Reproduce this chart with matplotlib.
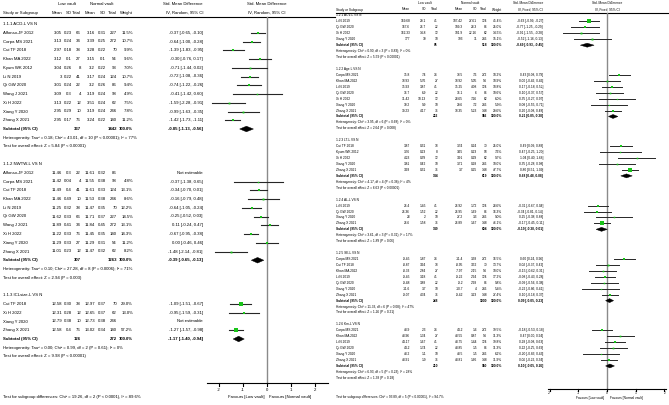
import matplotlib
matplotlib.use('Agg')
import numpy as np
import matplotlib.pyplot as plt
from matplotlib import font_manager
from matplotlib.patches import Polygon

# ---- left panel: 1.1.x (IV, Random) ----
# study, low mean, low sd, low n, normal mean, normal sd, normal n, weight %, smd, lo, hi
acd_rows = [
    ("Alfonso-JF 2012", "3.05", "0.23", "66", "3.16", "0.31", "227", 11.5, -0.37, -0.65, -0.10),
    ("Corpa MS 2021", "3.13", "0.24", "34", "3.39", "0.25", "272", 10.7, -0.64, -1.00, -0.28),
    ("Cui TF 2018", "2.97", "0.18", "38", "3.28", "0.22", "70", 9.9, -1.39, -1.83, -0.95),
    ("Khan MA 2022", "3.12", "0.1", "27", "3.15", "0.1", "54", 9.6, -0.30, -0.76, 0.17),
    ("Kyum WK 2012", "3.04", "0.26", "8", "3.2", "0.22", "93", 7.0, -0.71, -1.44, 0.02),
    ("Li N 2019", "3", "0.22", "41", "3.17", "0.24", "124", 10.7, -0.72, -1.08, -0.36),
    ("Qi GW 2020", "3.01", "0.24", "22", "3.2", "0.26", "86", 9.4, -0.74, -1.22, -0.26),
    ("Wang J 2021", "3.09", "0.3", "4", "3.19", "0.24", "98", 4.9, -0.41, -1.42, 0.60),
    ("Xi H 2022", "3.13", "0.22", "12", "3.51", "0.24", "62", 7.5, -1.59, -2.28, -0.91),
    ("Xiang Y 2020", "2.95", "0.29", "10", "3.19", "0.24", "246", 7.8, -0.99, -1.63, -0.35),
    ("Zhang X 2021", "2.95", "0.17", "76", "3.24", "0.22", "140", 11.2, -1.42, -1.73, -1.11),
]
acd_total = ("337", "1442", -0.85, -1.13, -0.56)
acd_het = "Heterogeneity: Tau² = 0.18; Chi² = 43.01, df = 10 (P < 0.00001); I² = 77%"
acd_z = "Test for overall effect: Z = 5.84 (P < 0.00001)"

nwtw_rows = [
    ("Alfonso-JF 2012", "11.46", "0.3", "22", "11.61", "0.32", "86", None, None, None, None),
    ("Corpa MS 2021", "11.42", "0.04", "4", "11.55", "0.38", "98", 4.8, -0.37, -1.38, 0.65),
    ("Cui TF 2018", "11.49", "0.4", "41", "11.61", "0.33", "124", 13.1, -0.34, -0.70, 0.01),
    ("Khan MA 2022", "11.46", "0.49", "10", "11.53", "0.38", "246", 8.6, -0.16, -0.79, 0.48),
    ("Li N 2019", "11.25", "0.32", "38", "11.47", "0.35", "70", 12.2, -0.64, -1.05, -0.24),
    ("Qi GW 2020", "11.62", "0.33", "66", "11.71", "0.37", "227", 14.5, -0.25, -0.52, 0.03),
    ("Wang J 2021", "11.89", "0.41", "34", "11.84", "0.45", "272", 13.1, 0.11, -0.24, 0.47),
    ("Xi H 2022", "11.22", "0.33", "76", "11.45", "0.35", "140", 14.3, -0.67, -0.95, -0.38),
    ("Xiang Y 2020", "11.29", "0.33", "27", "11.29", "0.31", "54", 11.2, 0.00, -0.46, 0.46),
    ("Zhang X 2021", "11.01", "0.23", "12", "11.47", "0.32", "62", 8.2, -1.48, -2.14, -0.81),
]
nwtw_total = ("307", "1263", -0.39, -0.65, -0.13)
nwtw_het = "Heterogeneity: Tau² = 0.10; Chi² = 27.28, df = 8 (P = 0.0006); I² = 71%"
nwtw_z = "Test for overall effect: Z = 2.94 (P = 0.003)"

icl_rows = [
    ("Cui TF 2018", "12.58", "0.30", "38", "12.97", "0.37", "70", 29.0, -1.09, -1.51, -0.67),
    ("Xi H 2022", "12.31", "0.28", "12", "12.65", "0.37", "62", 13.0, -0.95, -1.59, -0.31),
    ("Xiang Y 2020", "12.79", "0.38", "10", "12.73", "0.38", "246", None, None, None, None),
    ("Zhang X 2021", "12.58", "0.4", "76", "13.02", "0.34", "140", 57.2, -1.27, -1.57, -0.98),
]
icl_total = ("126", "272", -1.17, -1.40, -0.94)
icl_het = "Heterogeneity: Tau² = 0.00; Chi² = 0.99, df = 2 (P = 0.61); I² = 0%"
icl_z = "Test for overall effect: Z = 9.98 (P < 0.00001)"

left_diff = "Test for subgroup differences: Chi² = 19.26, df = 2 (P < 0.0001), I² = 89.6%"

# ---- right panel: 1.2.x (IV, Fixed) ----
acv_rows = [
    ("Li N 2019", "169.68", "29.1", "41", "187.42", "27.61", "124", 45.4, -0.63, -0.99, -0.27),
    ("Qi GW 2020", "167.6", "26.7", "22", "189.3", "28.3", "86", 25.0, -0.77, -1.25, -0.29),
    ("Xi H 2022", "162.33", "14.8", "12", "181.9", "22.16", "62", 14.5, -0.91, -1.55, -0.28),
    ("Xiang Y 2020", "177", "30", "10", "193", "31", "246", 15.1, -0.52, -1.16, 0.13),
]
acv_total = ("85", "518", -0.69, -0.93, -0.45)
acv_het = "Heterogeneity: Chi² = 0.90, df = 3 (P = 0.83); I² = 0%"
acv_z = "Test for overall effect: Z = 5.59 (P < 0.00001)"

age_rows = [
    ("Corpa MS 2021", "35.8", "7.4", "34", "33.5", "7.6", "272", 18.2, 0.43, 0.08, 0.79),
    ("Khan MA 2022", "38.93", "5.76", "27", "38.92", "5.05", "54", 10.9, 0.00, -0.46, 0.46),
    ("Li N 2019", "35.93", "3.87", "41", "35.25", "4.08", "124", 18.8, 0.17, -0.18, 0.52),
    ("Qi GW 2020", "36.7", "6.9", "22", "36.1", "6", "86", 10.6, 0.10, -0.37, 0.57),
    ("Xi H 2022", "31.42", "10.13", "12", "28.65", "7.26", "62", 6.0, 0.35, -0.27, 0.97),
    ("Xiang Y 2020", "30.2", "9.9", "10", "29.6", "7.2", "246", 5.9, 0.08, -0.55, 0.71),
    ("Zhang X 2021", "39.23", "4.17", "76", "38.35", "5.23", "148", 29.6, 0.20, -0.08, 0.48),
]
age_total = ("222", "992", 0.21, 0.05, 0.38)
age_het = "Heterogeneity: Chi² = 3.95, df = 6 (P = 0.68); I² = 0%"
age_z = "Test for overall effect: Z = 2.64 (P = 0.008)"

lt_rows = [
    ("Cui TF 2018", "3.87", "0.31", "38", "3.74", "0.24", "70", 25.0, 0.49, 0.09, 0.88),
    ("Kyum WK 2012", "3.76", "0.23", "8", "3.65", "0.23", "93", 7.6, 0.47, -0.25, 1.20),
    ("Xi H 2022", "4.23", "0.39", "12", "3.91", "0.29", "62", 9.7, 1.04, 0.40, 1.68),
    ("Xiang Y 2020", "3.81", "0.42", "10", "3.71", "0.28", "246", 10.0, 0.35, -0.28, 0.98),
    ("Zhang X 2021", "3.93", "0.31", "76", "3.7", "0.25", "148", 47.7, 0.80, 0.51, 1.09),
]
lt_total = ("144", "619", 0.68, 0.48, 0.88)
lt_het = "Heterogeneity: Chi² = 4.17, df = 4 (P = 0.38); I² = 4%"
lt_z = "Test for overall effect: Z = 6.63 (P < 0.00001)"

al_rows = [
    ("Li N 2019", "26.4", "1.45", "41", "26.92", "1.72", "124", 28.6, -0.31, -0.67, 0.04),
    ("Qi GW 2020", "26.36", "1.52", "22", "26.95", "1.69", "86", 16.3, -0.34, -0.81, 0.14),
    ("Xiang Y 2020", "28", "2", "10", "27.2", "3.3", "246", 9.0, 0.25, -0.38, 0.88),
    ("Zhang X 2021", "26.6", "1.58", "76", "26.89", "1.67", "148", 46.1, -0.17, -0.45, 0.11),
]
al_total = ("149", "604", -0.19, -0.38, 0.01)
al_het = "Heterogeneity: Chi² = 3.61, df = 3 (P = 0.31); I² = 17%"
al_z = "Test for overall effect: Z = 1.89 (P = 0.06)"

se_rows = [
    ("Corpa MS 2021", "-9.45", "1.87", "34", "-11.4", "3.38", "272", 16.5, 0.60, 0.24, 0.96),
    ("Cui TF 2018", "-8.87", "3.94", "38", "-8.95", "3.52", "70", 13.7, 0.02, -0.37, 0.42),
    ("Khan MA 2022", "-8.33", "2.84", "27", "-7.97", "2.15", "54", 10.0, -0.15, -0.62, 0.31),
    ("Li N 2019", "-9.45", "3.18", "41", "-9.22", "2.94", "124", 17.2, -0.08, -0.43, 0.28),
    ("Qi GW 2020", "-9.48", "3.88", "22", "-9.2", "2.98", "86", 9.8, -0.09, -0.56, 0.38),
    ("Xiang Y 2020", "-11.6", "3.7", "10", "-10.7", "4", "246", 5.4, -0.22, -0.86, 0.41),
    ("Zhang X 2021", "-9.07", "4.34", "76", "-9.42", "3.23", "148", 27.4, 0.10, -0.18, 0.37),
]
se_total = ("248", "1000", 0.09, -0.05, 0.23)
se_het = "Heterogeneity: Chi² = 11.33, df = 6 (P = 0.08); I² = 47%"
se_z = "Test for overall effect: Z = 1.26 (P = 0.21)"

km_rows = [
    ("Corpa MS 2021", "43.9", "2.3", "34", "44.2", "1.6", "272", 19.5, -0.18, -0.53, 0.18),
    ("Khan MA 2022", "43.96", "1.34", "27", "43.55", "0.87", "54", 11.3, 0.47, 0.00, 0.94),
    ("Li N 2019", "44.17", "1.67", "41", "43.75", "1.44", "124", 19.8, 0.28, -0.08, 0.63),
    ("Qi GW 2020", "44.2", "1.74", "22", "43.85", "1.5", "86", 11.3, 0.22, -0.25, 0.69),
    ("Xiang Y 2020", "43.2", "1.1", "10", "43.5", "1.5", "246", 6.2, -0.20, -0.83, 0.43),
    ("Zhang X 2021", "43.91", "1.9", "76", "43.81", "1.66", "148", 31.9, 0.06, -0.22, 0.34),
]
km_total = ("210", "930", 0.10, -0.05, 0.26)
km_het = "Heterogeneity: Chi² = 6.93, df = 5 (P = 0.23); I² = 28%"
km_z = "Test for overall effect: Z = 1.38 (P = 0.18)"

right_diff = "Test for subgroup differences: Chi² = 93.89, df = 5 (P < 0.00001), I² = 94.7%"

left_groups = [
    ("1.1.1 ACD-L VS N", acd_rows, acd_total, acd_het, acd_z),
    ("1.1.2 NWTW-L VS N", nwtw_rows, nwtw_total, nwtw_het, nwtw_z),
    ("1.1.3 ICLsize-L VS N", icl_rows, icl_total, icl_het, icl_z),
]
right_groups = [
    ("1.2.1 ACV-L VS N", acv_rows, acv_total, acv_het, acv_z),
    ("1.2.2 Age-L VS N", age_rows, age_total, age_het, age_z),
    ("1.2.3 LT-L VS N", lt_rows, lt_total, lt_het, lt_z),
    ("1.2.4 AL-L VS N", al_rows, al_total, al_het, al_z),
    ("1.2.5 SE-L VS N", se_rows, se_total, se_het, se_z),
    ("1.2.6 Km-L VS N", km_rows, km_total, km_het, km_z),
]

W, H = 669, 405
GREEN = '#19c419'


def pick_fonts():
    try:
        font_manager.findfont('Liberation Sans Narrow', fallback_to_default=False)
        return ['Liberation Sans Narrow', 'DejaVu Sans'], 1.0
    except ValueError:
        return ['Liberation Sans', 'DejaVu Sans'], 0.82


fonts, font_scale = pick_fonts()
plt.rcParams['font.family'] = fonts


def draw_panel(fig, bg, groups, diff_text, cfg):
    fs = cfg['fs'] * font_scale
    kw = dict(fontsize=fs, va='center', color='black')

    def ypos(r):
        return cfg['y0'] + (r - 2) * cfg['dy']

    # header
    hy0, hy1 = cfg['head_y']
    for label, x in cfg['group_hdr']:
        bg.text(x, hy0, label, ha='center', **kw)
    bg.text(cfg['ci_x'], hy0, 'Std. Mean Difference', ha='right', **kw)
    bg.text(cfg['zero_px'], hy0, 'Std. Mean Difference', ha='center', **kw)
    bg.text(cfg['study_x'], hy1, 'Study or Subgroup', ha='left', **kw)
    for lab, x in zip(['Mean', 'SD', 'Total', 'Mean', 'SD', 'Total'], cfg['cols']):
        bg.text(x, hy1, lab, ha='right', **kw)
    bg.text(cfg['weight_x'], hy1, 'Weight', ha='right', **kw)
    bg.text(cfg['ci_x'], hy1, cfg['method'], ha='right', **kw)
    bg.text(cfg['zero_px'], hy1, cfg['method'], ha='center', **kw)
    bg.plot(cfg['line_x'], [cfg['line_y']] * 2, color='black', lw=0.8)

    # forest area, x in SMD units, y in pixels from top
    px0, px1 = cfg['plot_px']
    zero, unit = cfg['zero_px'], cfg['unit_px']
    ax = fig.add_axes([px0 / W, 0, (px1 - px0) / W, 1])
    ax.set_xlim((px0 - zero) / unit, (px1 - zero) / unit)
    ax.set_ylim(H, 0)
    ax.axis('off')
    ax.plot([0, 0], [cfg['line_y'], cfg['axis_y']], color='#8a8a8a', lw=1.0, zorder=1)

    r = 2
    for title, rows, total, het, z in groups:
        bg.text(cfg['study_x'], ypos(r), title, ha='left', **kw)
        r += 1
        for name, lm, lsd, ln, nm, nsd, nn, w, est, lo, hi in rows:
            y = ypos(r)
            bg.text(cfg['study_x'], y, name, ha='left', **kw)
            for val, x in zip([lm, lsd, ln, nm, nsd, nn], cfg['cols']):
                bg.text(x, y, val, ha='right', **kw)
            if w is None:
                bg.text(cfg['ci_x'], y, 'Not estimable', ha='right', **kw)
            else:
                bg.text(cfg['weight_x'], y, f"{w:.1f}%", ha='right', **kw)
                bg.text(cfg['ci_x'], y, f"{est:.2f} [{lo:.2f}, {hi:.2f}]", ha='right', **kw)
                ax.plot([lo, hi], [y, y], color='#262626', lw=cfg['ci_lw'], zorder=2)
                side = max(cfg['sq'] * np.sqrt(w), 1.2) * 0.72
                ax.plot(est, y, marker='s', ms=side, color=GREEN, mec=GREEN, mew=0, zorder=3)
            r += 1
        y = ypos(r)
        ln_tot, nn_tot, est, lo, hi = total
        bkw = dict(kw, fontweight='bold')
        bg.text(cfg['study_x'], y, 'Subtotal (95% CI)', ha='left', **bkw)
        bg.text(cfg['cols'][2], y, ln_tot, ha='right', **bkw)
        bg.text(cfg['cols'][5], y, nn_tot, ha='right', **bkw)
        bg.text(cfg['weight_x'], y, '100.0%', ha='right', **bkw)
        bg.text(cfg['ci_x'], y, f"{est:.2f} [{lo:.2f}, {hi:.2f}]", ha='right', **bkw)
        h = cfg['dia_h']
        ax.add_patch(Polygon([(lo, y), (est, y - h), (hi, y), (est, y + h)], closed=True,
                             fc='black', ec='black', lw=0.3, zorder=3))
        r += 1
        bg.text(cfg['study_x'], ypos(r), het, ha='left', **kw)
        r += 1
        bg.text(cfg['study_x'], ypos(r), z, ha='left', **kw)
        r += 2

    # axis
    lim = cfg['axis_lim']
    ay = cfg['axis_y']
    ax.plot([-lim, lim], [ay, ay], color='black', lw=0.8)
    for t in [-2, -1, 0, 1, 2]:
        ax.plot([t, t], [ay, ay + cfg['tick_len']], color='black', lw=0.8)
        ax.text(t, cfg['tick_y'], str(t), ha='center', **kw)
    ax.text(-0.1, cfg['fav_y'], 'Favours [Low vault]', ha='right', **kw)
    ax.text(0.1, cfg['fav_y'], 'Favours [Normal vault]', ha='left', **kw)
    bg.text(cfg['study_x'], cfg['diff_y'], diff_text, ha='left', **kw)


left_cfg = dict(
    fs=3.7, study_x=3, cols=[62, 72, 81, 95, 106, 117], weight_x=133, ci_x=203,
    y0=24, dy=8.75, head_y=(4, 13), line_y=17, line_x=(0, 335),
    zero_px=267, unit_px=24.2, plot_px=(205, 335), axis_lim=2.5, axis_y=383,
    tick_len=2.5, tick_y=390, fav_y=397, diff_y=397,
    group_hdr=(("Low vault", 67), ("Normal vault", 102)),
    method='IV, Random, 95% CI', sq=0.66, dia_h=2.8, ci_lw=0.8,
)
right_cfg = dict(
    fs=2.85, study_x=336, cols=[410, 426, 438, 463, 477, 487], weight_x=502, ci_x=543,
    y0=15.5, dy=5.94, head_y=(3.5, 9.5), line_y=12.5, line_x=(336, 669),
    zero_px=607, unit_px=28.7, plot_px=(545, 669), axis_lim=2.05, axis_y=389,
    tick_len=2.0, tick_y=393.5, fav_y=398.5, diff_y=397,
    group_hdr=(("Low vault", 425), ("Normal vault", 470)),
    method='IV, Fixed, 95% CI', sq=0.5, dia_h=2.0, ci_lw=0.7,
)

fig = plt.figure(figsize=(W / 100, H / 100), dpi=100)
fig.patch.set_facecolor('white')
bg = fig.add_axes([0, 0, 1, 1])
bg.set_xlim(0, W)
bg.set_ylim(H, 0)
bg.axis('off')

draw_panel(fig, bg, left_groups, left_diff, left_cfg)
draw_panel(fig, bg, right_groups, right_diff, right_cfg)

fig.savefig('out.png', dpi=100)
